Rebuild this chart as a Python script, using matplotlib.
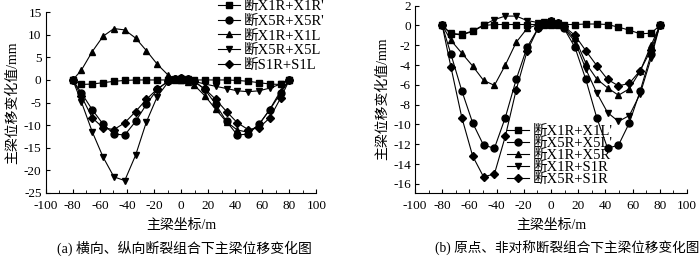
import matplotlib
matplotlib.use('Agg')
import matplotlib.pyplot as plt
from matplotlib.ticker import MultipleLocator

plt.rcParams['font.family'] = ['Liberation Serif', 'Noto Sans CJK SC']
plt.rcParams['axes.unicode_minus'] = False

# positions along the main girder (m)
x = [-80, -73.6, -65.6, -57.6, -49.6, -41.6, -33.6, -25.6, -17.6, -9.6, -4.8, 0,
     4.8, 9.6, 17.6, 25.6, 33.6, 41.6, 49.6, 57.6, 65.6, 73.6, 80]

# (a) transverse / longitudinal break combinations
a_labels = ["断X1R+X1R'", "断X5R+X5R'", "断X1R+X1L", "断X5R+X5L", "断S1R+S1L"]
a_x1r_x1r = [0, -1.0, -0.9, -0.6, -0.3, -0.1, 0, 0, 0, 0, 0, 0,
             0, 0, 0, 0, 0, -0.1, -0.3, -0.6, -0.9, -1.0, 0]
a_x5r_x5r = [0, -2.9, -6.6, -9.8, -12.0, -12.2, -9.2, -5.4, -2.1, -0.3, 0.3, 0.5,
             0.3, -0.3, -2.1, -5.4, -9.2, -12.2, -12.0, -9.8, -6.6, -2.9, 0]
a_x1r_x1l = [0, 2.2, 6.3, 9.7, 11.4, 11.1, 9.3, 6.5, 3.5, 1.1, 0.4, 0,
             -0.4, -1.1, -3.5, -6.5, -9.3, -11.1, -11.6, -9.9, -6.5, -2.4, 0]
a_x5r_x5l = [0, -4.9, -11.5, -17.1, -21.5, -22.3, -16.7, -9.3, -3.7, -0.5, 0.2, 0.3,
             0.2, -0.3, -0.9, -1.4, -1.9, -2.4, -2.6, -2.4, -1.8, -0.9, 0]
a_s1r_s1l = [0, -3.6, -8.4, -10.6, -11.0, -9.5, -7.0, -4.3, -2.0, -0.3, 0.3, 0.5,
             0.3, -0.3, -2.0, -4.3, -7.0, -9.5, -11.0, -10.6, -8.4, -4.0, 0]

# (b) origin / asymmetric break combinations
b_labels = ["断X1R+X1L'", "断X5R+X5L'", "断X1R+X5R", "断X1R+S1R", "断X5R+S1R"]
b_x1r_x1l = [0, -0.85, -0.95, -0.6, 0.0, 0.1, 0.1, 0.1, 0.1, 0.1, 0.1, 0.1,
             0.1, 0.1, 0.1, 0.15, 0.15, 0.1, -0.17, -0.47, -0.84, -0.78, 0]
b_x5r_x5l = [0, -2.9, -6.6, -9.85, -12.1, -12.4, -9.3, -5.45, -2.2, -0.3, 0.3, 0.5,
             0.3, -0.3, -2.2, -5.45, -9.3, -12.4, -12.1, -9.85, -6.6, -2.9, 0]
b_x1r_x5r = [0, -1.5, -2.8, -4.1, -5.55, -6.05, -4.0, -1.7, -0.3, 0.1, 0.3, 0.4,
             0.2, -0.2, -1.3, -3.8, -5.4, -6.3, -7.05, -6.4, -4.6, -2.0, 0]
b_x1r_s1r = [0, -0.8, -0.9, -0.55, 0.05, 0.6, 0.95, 0.95, 0.5, 0.3, 0.4, 0.5,
             0.3, -0.3, -1.6, -4.4, -6.8, -8.8, -9.7, -9.1, -6.9, -3.3, 0]
b_x5r_s1r = [0, -4.2, -9.3, -13.2, -15.3, -15.0, -11.2, -6.5, -2.6, -0.3, 0.3, 0.5,
             0.3, -0.1, -1.0, -2.55, -4.05, -5.45, -6.1, -5.85, -4.55, -2.45, 0]

markers = ['s', 'o', '^', 'v', 'D']
msizes = [4, 5, 5, 5, 4]

fig = plt.figure(figsize=(7, 2.57), dpi=100)
ax1 = fig.add_axes([0.0653, 0.2502, 0.3867, 0.7018])
ax2 = fig.add_axes([0.5929, 0.2502, 0.3885, 0.7276])

for ax, series, labels in [
        (ax1, [a_x1r_x1r, a_x5r_x5r, a_x1r_x1l, a_x5r_x5l, a_s1r_s1l], a_labels),
        (ax2, [b_x1r_x1l, b_x5r_x5l, b_x1r_x5r, b_x1r_s1r, b_x5r_s1r], b_labels)]:
    for y, lab, m, ms in zip(series, labels, markers, msizes):
        ax.plot(x, y, color='black', lw=0.8, marker=m, ms=ms, label=lab)
    ax.set_xlim(-100, 100)
    ax.xaxis.set_major_locator(MultipleLocator(20))
    ax.xaxis.set_minor_locator(MultipleLocator(10))
    for s in ['top', 'right']:
        ax.spines[s].set_visible(False)
    ax.tick_params(which='both', direction='in', labelsize=9.5, pad=3)
    ax.tick_params(axis='x', pad=5)
    ax.tick_params(which='major', length=3)
    ax.tick_params(which='minor', length=2)
    ax.set_xlabel('主梁坐标/m', fontsize=10, labelpad=5)
    ax.set_ylabel('主梁位移变化值/mm', fontsize=10, labelpad=3)

ax1.set_ylim(-25, 15)
ax1.yaxis.set_major_locator(MultipleLocator(5))
ax2.set_ylim(-16.9, 2)
ax2.yaxis.set_major_locator(MultipleLocator(2))

ax1.legend(loc='upper left', bbox_to_anchor=(218 / 700, 1.0),
           bbox_transform=fig.transFigure, frameon=False, fontsize=10.5,
           borderpad=0, borderaxespad=0, labelspacing=0.1,
           handlelength=1.5, handletextpad=0.25)
ax2.legend(loc='upper left', bbox_to_anchor=(507 / 700, 1 - 125 / 257),
           bbox_transform=fig.transFigure, frameon=False, fontsize=10.5,
           borderpad=0, borderaxespad=0, labelspacing=-0.08,
           handlelength=1.5, handletextpad=0.25)

fig.text(184 / 700, 1 - 248 / 257, '(a) 横向、纵向断裂组合下主梁位移变化图',
         ha='center', va='center', fontsize=10)
fig.text(699 / 700, 1 - 248 / 257, '(b) 原点、非对称断裂组合下主梁位移变化图',
         ha='right', va='center', fontsize=9.8)

fig.savefig('out.png', dpi=100)
